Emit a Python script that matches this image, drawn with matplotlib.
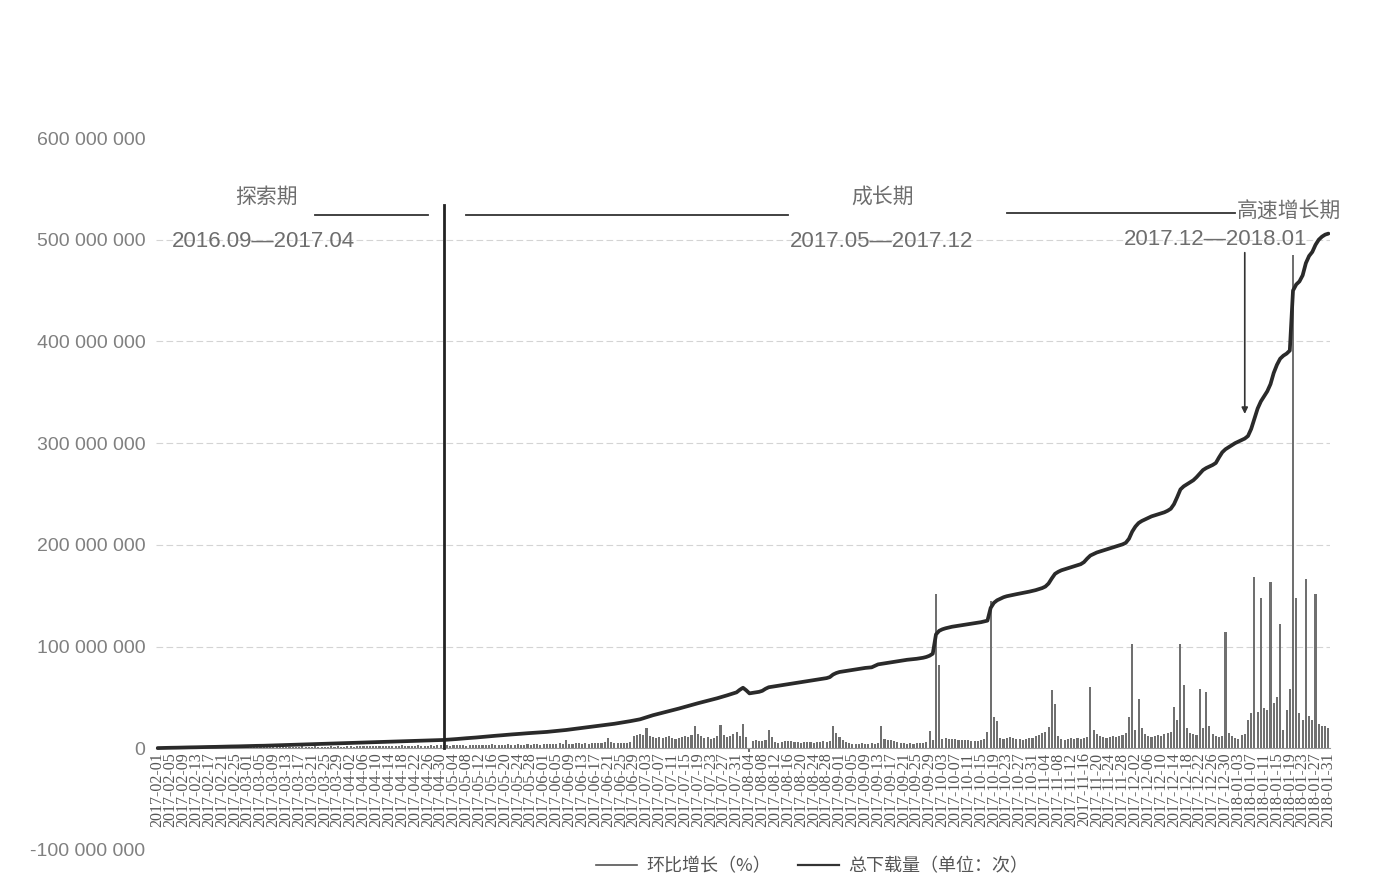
import numpy as np
import pandas as pd
import matplotlib
matplotlib.use('Agg')
import matplotlib.pyplot as plt
from matplotlib.lines import Line2D
from matplotlib.ticker import FuncFormatter

plt.rcParams['font.family'] = ['Liberation Sans', 'Noto Sans CJK SC']
cjk = ['Noto Sans CJK SC', 'DejaVu Sans']

# daily categories
dates = pd.date_range('2017-02-01', '2018-01-31', freq='D')

# 总下载量 (cumulative downloads), millions, per month
total_feb = [0.2, 0.3, 0.3, 0.4, 0.5, 0.5, 0.6, 0.7, 0.7, 0.8, 0.9, 0.9, 1.0, 1.1, 1.1, 1.2, 1.3, 1.3, 1.4, 1.5,
             1.5, 1.6, 1.7, 1.8, 1.8, 1.9, 2.0, 2.1]
total_mar = [2.1, 2.2, 2.3, 2.4, 2.4, 2.5, 2.6, 2.7, 2.8, 2.9, 3.0, 3.1, 3.1, 3.2, 3.3, 3.4, 3.5, 3.6, 3.7, 3.8,
             3.9, 4.0, 4.1, 4.2, 4.3, 4.4, 4.5, 4.6, 4.7, 4.8, 4.9]
total_apr = [5.0, 5.1, 5.2, 5.3, 5.4, 5.5, 5.6, 5.7, 5.8, 5.9, 6.0, 6.1, 6.2, 6.3, 6.4, 6.5, 6.6, 6.7, 6.8, 6.9,
             7.0, 7.1, 7.2, 7.3, 7.4, 7.5, 7.6, 7.7, 7.8, 7.9]
total_may = [8.2, 8.4, 8.6, 8.9, 9.1, 9.4, 9.6, 9.9, 10.1, 10.4, 10.6, 10.9, 11.2, 11.4, 11.7, 12.0, 12.3, 12.5,
             12.8, 13.1, 13.3, 13.6, 13.8, 14.1, 14.3, 14.6, 14.8, 15.0, 15.2, 15.4, 15.6]
total_jun = [15.8, 16.1, 16.4, 16.7, 17.0, 17.3, 17.6, 18.0, 18.4, 18.8, 19.2, 19.6, 20.0, 20.4, 20.8, 21.2, 21.6,
             22.0, 22.4, 22.8, 23.2, 23.6, 24.1, 24.6, 25.1, 25.6, 26.1, 26.7, 27.3, 27.9]
total_jul = [28.5, 29.5, 30.5, 31.5, 32.5, 33.3, 34.1, 34.9, 35.7, 36.5, 37.3, 38.1, 39.0, 39.9, 40.8, 41.7, 42.6,
             43.5, 44.3, 45.1, 45.9, 46.7, 47.5, 48.3, 49.2, 50.1, 51.0, 52.0, 53.0, 54.0, 55.0]
total_aug = [57.5, 59.5, 57.0, 54.0, 54.5, 55.0, 55.5, 56.5, 58.5, 60.0, 60.5, 61.0, 61.5, 62.0, 62.5, 63.0, 63.5,
             64.0, 64.5, 65.0, 65.5, 66.0, 66.5, 67.0, 67.5, 68.0, 68.5, 69.0, 70.0, 72.5, 74.0]
total_sep = [75.0, 75.5, 76.0, 76.5, 77.0, 77.5, 78.0, 78.5, 79.0, 79.3, 79.6, 81.0, 82.5, 83.0, 83.5, 84.0, 84.5,
             85.0, 85.5, 86.0, 86.5, 87.0, 87.3, 87.6, 88.0, 88.5, 89.0, 89.8, 91.0, 93.0]
total_oct = [112.0, 115.5, 117.0, 118.0, 118.8, 119.5, 120.0, 120.5, 121.0, 121.5, 122.0, 122.5, 123.0, 123.5,
             124.0, 124.8, 125.5, 138.0, 143.0, 145.5, 147.0, 148.5, 149.5, 150.2, 150.9, 151.5, 152.1, 152.7,
             153.3, 154.0, 154.7]
total_nov = [155.5, 156.5, 157.5, 159.0, 162.0, 167.0, 171.5, 173.5, 175.0, 176.0, 177.0, 178.0, 179.0, 180.0,
             181.0, 183.0, 186.5, 189.5, 191.0, 192.5, 193.5, 194.5, 195.5, 196.5, 197.5, 198.5, 199.5, 200.5,
             202.0, 206.0]
total_dec = [213.0, 218.0, 221.5, 223.5, 225.0, 226.5, 228.0, 229.0, 230.0, 231.0, 232.0, 233.5, 235.5, 240.0,
             247.0, 254.5, 257.5, 259.5, 261.5, 263.5, 266.5, 270.0, 273.5, 275.5, 277.0, 278.5, 280.5, 286.0,
             291.0, 294.0, 296.0]
total_jan = [298.0, 300.0, 301.5, 303.0, 304.5, 307.0, 314.0, 324.0, 334.0, 341.0, 346.0, 351.0, 358.0, 369.0,
             377.0, 383.0, 386.0, 388.0, 391.0, 450.0, 456.0, 459.0, 465.0, 477.0, 484.0, 488.0, 495.0, 500.0,
             503.0, 505.0, 506.0]

# 环比增长 bars, same scale (millions)
growth_feb = [0.8, 1.0, 0.9, 1.1, 1.0, 0.8, 0.9, 1.2, 1.0, 1.1, 0.9, 1.0, 1.2, 1.1, 0.9, 1.0, 1.3, 1.1, 1.0, 0.9,
              1.2, 1.1, 1.0, 1.3, 1.2, 1.1, 1.0, 1.2]
growth_mar = [1.2, 1.4, 1.1, 1.3, 1.5, 1.2, 1.4, 1.6, 1.3, 1.5, 1.2, 1.4, 1.7, 1.5, 1.3, 1.6, 1.4, 1.8, 1.5, 1.3,
              1.6, 1.9, 1.5, 1.4, 1.7, 1.6, 1.8, 1.5, 2.0, 1.7, 1.6]
growth_apr = [1.8, 2.0, 1.7, 2.2, 1.9, 2.1, 1.8, 2.4, 2.0, 2.2, 1.9, 2.6, 2.1, 2.3, 2.0, 2.5, 2.2, 2.8, 2.4, 2.1,
              2.6, 2.3, 2.9, 2.5, 2.7, 2.3, 3.0, 2.6, 2.8, 3.2]
growth_may = [2.8, 3.0, 2.6, 3.2, 2.9, 3.4, 3.0, 2.7, 3.3, 3.1, 3.6, 2.9, 3.2, 3.5, 3.0, 3.8, 3.3, 3.1, 3.6, 3.4,
              4.0, 3.2, 3.5, 3.9, 3.3, 3.7, 4.2, 3.5, 3.8, 4.5, 3.6]
growth_jun = [4.0, 4.3, 3.8, 4.6, 4.1, 5.0, 4.4, 8.0, 4.5, 4.2, 4.8, 5.2, 4.6, 5.0, 4.4, 5.5, 4.8, 5.2, 4.9, 6.0,
              10.0, 6.5, 5.0, 5.4, 5.1, 5.6, 5.3, 5.8, 12.0, 13.5]
growth_jul = [14.0, 13.0, 20.0, 12.5, 11.0, 10.5, 11.5, 10.0, 11.0, 12.0, 10.5, 9.5, 10.0, 11.0, 12.5, 11.5, 13.0,
              22.0, 14.0, 12.0, 10.5, 11.0, 9.5, 10.0, 12.0, 23.0, 13.5, 11.0, 12.5, 14.0, 16.0]
growth_aug = [12.0, 24.0, 11.0, -4.0, 7.0, 8.0, 7.5, 7.0, 8.0, 18.0, 11.0, 6.0, 5.5, 6.5, 7.0, 7.5, 7.0, 6.5, 6.0,
              5.5, 6.0, 6.5, 6.0, 5.5, 6.0, 6.5, 7.0, 6.5, 7.0, 22.0, 15.0]
growth_sep = [11.0, 8.0, 6.0, 5.0, 4.5, 4.0, 4.5, 5.0, 4.0, 4.5, 5.0, 4.5, 5.0, 22.0, 9.0, 8.5, 8.0, 7.0, 6.0, 5.0,
              5.5, 4.5, 5.0, 4.5, 5.0, 5.5, 5.0, 6.0, 17.0, 8.0]
growth_oct = [152.0, 82.0, 9.0, 10.0, 9.5, 9.0, 9.0, 8.5, 8.0, 8.5, 8.0, 7.5, 7.0, 7.5, 8.0, 9.0, 16.0, 145.0,
              31.0, 27.0, 10.0, 9.0, 10.0, 11.0, 10.0, 9.5, 9.0, 8.5, 9.0, 10.0, 10.5]
growth_nov = [12.0, 13.0, 15.0, 16.0, 21.0, 57.0, 44.0, 12.0, 9.0, 8.0, 9.0, 10.0, 9.5, 10.0, 9.0, 10.0, 11.0,
              60.0, 18.0, 14.0, 12.0, 11.0, 10.0, 11.0, 12.0, 11.5, 12.0, 13.0, 15.0, 31.0]
growth_dec = [103.0, 18.0, 48.0, 20.0, 14.0, 12.0, 11.0, 12.0, 13.0, 12.0, 14.0, 15.0, 16.0, 41.0, 28.0, 103.0,
              62.0, 20.0, 15.0, 14.0, 13.0, 58.0, 20.0, 55.0, 22.0, 14.0, 12.0, 11.0, 12.0, 114.0, 15.0]
growth_jan = [12.0, 10.0, 9.0, 13.0, 14.0, 28.0, 35.0, 168.0, 36.0, 148.0, 40.0, 38.0, 163.0, 45.0, 50.0, 122.0,
              18.0, 38.0, 58.0, 485.0, 148.0, 35.0, 28.0, 166.0, 32.0, 28.0, 152.0, 24.0, 22.0, 22.0, 20.0]

total = np.array(total_feb + total_mar + total_apr + total_may + total_jun + total_jul + total_aug
                 + total_sep + total_oct + total_nov + total_dec + total_jan) * 1e6
growth = np.array(growth_feb + growth_mar + growth_apr + growth_may + growth_jun + growth_jul + growth_aug
                  + growth_sep + growth_oct + growth_nov + growth_dec + growth_jan) * 1e6

x = np.arange(len(dates))

fig = plt.figure(figsize=(13.8, 8.85), dpi=100)
ax = fig.add_axes([156 / 1380, 1 - 850 / 885, (1330 - 156) / 1380, (850 - 138) / 885])

for v in range(100_000_000, 600_000_000, 100_000_000):
    ax.axhline(v, color='#d4d4d4', lw=0.8, ls=(0, (6, 3)), zorder=0)

ax.bar(x, growth, width=0.65, color='#707070', zorder=2)
ax.plot(x, total, color='#2a2a2a', lw=2.7, zorder=3, solid_capstyle='round')

ax.set_xlim(-0.5, len(dates) - 0.5)
ax.set_ylim(-100_000_000, 600_000_000)

for s in ['top', 'right', 'left']:
    ax.spines[s].set_visible(False)
ax.spines['bottom'].set_position(('data', 0))
ax.spines['bottom'].set_color('#999999')
ax.spines['bottom'].set_linewidth(0.8)

ax.set_yticks(range(-100_000_000, 600_000_001, 100_000_000))
ax.yaxis.set_major_formatter(FuncFormatter(lambda v, p: f'{int(v):,}'.replace(',', ' ')))
ax.tick_params(axis='y', length=0, labelsize=14, labelcolor='#808080', pad=7.5)

tick_idx = x[::4]
ax.set_xticks(tick_idx)
ax.set_xticklabels([dates[i].strftime('%Y-%m-%d') for i in tick_idx], rotation=90,
                   family='Liberation Serif', fontsize=11.5, color='#555555')
ax.tick_params(axis='x', length=0, pad=3)

# period annotations
line_kw = dict(color='#333333', lw=1.3)
ax.plot([49, 84], [524e6, 524e6], **line_kw)
ax.plot([96, 196], [524e6, 524e6], **line_kw)
ax.plot([264, 335], [526e6, 526e6], **line_kw)
ax.plot([89, 89], [0, 534e6], color='#222222', lw=2.0, zorder=4)
ax.annotate('', xy=(338, 326e6), xytext=(338, 490e6),
            arrowprops=dict(arrowstyle='-|>', color='#333333', lw=1.2, mutation_scale=9))

txt = dict(color='#6e6e6e', ha='center', va='center')
ax.text(34, 542e6, '探索期', family=cjk, fontsize=15, **txt)
ax.text(33, 498e6, '2016.09—2017.04', fontsize=16, **txt)
ax.text(225.5, 542e6, '成长期', family=cjk, fontsize=15, **txt)
ax.text(225, 498e6, '2017.05—2017.12', fontsize=16, **txt)
ax.text(335.5, 528e6, '高速增长期', family=cjk, fontsize=15, color='#6e6e6e', ha='left', va='center')
ax.text(329, 500e6, '2017.12—2018.01', fontsize=16, **txt)

handles = [Line2D([], [], color='#555555', lw=1.2), Line2D([], [], color='#333333', lw=1.6)]
fig.legend(handles, ['环比增长（%）', '总下载量（单位：次）'], loc='center',
           bbox_to_anchor=(812 / 1380, 1 - 866 / 885), ncol=2, frameon=False,
           prop={'family': cjk, 'size': 13}, labelcolor='#555555', handlelength=2.3,
           columnspacing=1.5, handletextpad=0.5)

fig.savefig('out.png', dpi=100)
